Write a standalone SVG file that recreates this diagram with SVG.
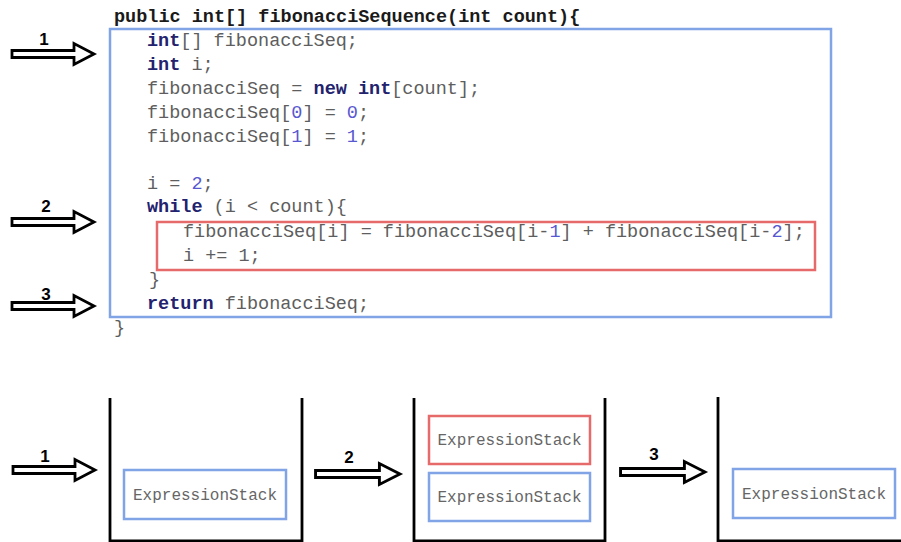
<svg xmlns="http://www.w3.org/2000/svg" width="901" height="542" viewBox="0 0 901 542">
<style>
.code{font-family:"Liberation Mono","Courier New","DejaVu Sans Mono",monospace;font-size:18.5px;fill:#5e5e5e}
.hdr{font-family:"Liberation Mono","Courier New","DejaVu Sans Mono",monospace;font-size:18.5px;font-weight:bold;fill:#1a1a1a}
.kw{font-weight:bold;fill:#22226e}
.num{fill:#5858d0}
.lbl{font-family:"Liberation Sans",Arial,sans-serif;font-size:17px;font-weight:bold;fill:#000;text-anchor:middle}
.arrow{fill:#fff;stroke:#000;stroke-width:2.8;stroke-linejoin:miter}
.blue{fill:#fff;stroke:#80a4e6;stroke-width:2.5}
.red{fill:#fff;stroke:#e66a6a;stroke-width:2.5}
.stack{fill:none;stroke:#000;stroke-width:2.8}
.es{font-family:"Liberation Mono","Courier New","DejaVu Sans Mono",monospace;font-size:16px;fill:#666;text-anchor:middle}
</style>
<defs>
<path id="arr" d="M-82,-3.5 H-20 V-10.5 L0,0 L-20,10.5 V3.5 H-82 Z"/>
</defs>
<rect width="901" height="542" fill="#fff"/>

<g id="method">
<text class="hdr" x="114" y="22" xml:space="preserve">public int[] fibonacciSequence(int count){</text>
<rect id="body-box" class="blue" x="110" y="29" width="721" height="288" style="fill:none"/>
<g id="red-box"><rect class="red" x="157" y="222" width="658" height="48" style="fill:none"/></g>
<text class="code" x="147" y="46" xml:space="preserve"><tspan class="kw">int</tspan>[] fibonacciSeq;</text>
<text class="code" x="147" y="70" xml:space="preserve"><tspan class="kw">int</tspan> i;</text>
<text class="code" x="147" y="94" xml:space="preserve">fibonacciSeq = <tspan class="kw">new</tspan> <tspan class="kw">int</tspan>[count];</text>
<text class="code" x="147" y="118" xml:space="preserve">fibonacciSeq[<tspan class="num">0</tspan>] = <tspan class="num">0</tspan>;</text>
<text class="code" x="147" y="142" xml:space="preserve">fibonacciSeq[<tspan class="num">1</tspan>] = <tspan class="num">1</tspan>;</text>
<text class="code" x="147" y="189" xml:space="preserve">i = <tspan class="num">2</tspan>;</text>
<text class="code" x="147" y="212" xml:space="preserve"><tspan class="kw">while</tspan> (i &lt; count){</text>
<text class="code" x="183" y="237" xml:space="preserve">fibonacciSeq[i] = fibonacciSeq[i-<tspan class="num">1</tspan>] + fibonacciSeq[i-<tspan class="num">2</tspan>];</text>
<text class="code" x="183" y="261" xml:space="preserve">i += 1;</text>
<text class="code" x="149" y="285">}</text>
<text class="code" x="147" y="309" xml:space="preserve"><tspan class="kw">return</tspan> fibonacciSeq;</text>
<text class="code" x="114" y="333">}</text>
</g>

<g id="stack1">
<path class="stack" d="M110,398 V541 H302 V398"/>
<rect class="blue" x="124" y="470" width="162" height="49"/>
<text class="es" x="205" y="499.5">ExpressionStack</text>
</g>

<g id="stack2">
<path class="stack" d="M414,398 V541 H605 V398"/>
<rect class="red" x="429" y="416" width="161" height="48"/>
<text class="es" x="509.5" y="445">ExpressionStack</text>
<rect class="blue" x="429" y="473" width="161" height="48"/>
<text class="es" x="509.5" y="502">ExpressionStack</text>
</g>

<g id="stack3">
<path class="stack" d="M718,397 V541 H903"/>
<rect class="blue" x="733" y="469" width="162" height="49"/>
<text class="es" x="814" y="498.5">ExpressionStack</text>
</g>

<g id="connectors">
<use href="#arr" class="arrow" transform="translate(94,54)"/>
<text class="lbl" x="44" y="45">1</text>
<use href="#arr" class="arrow" transform="translate(94,222)"/>
<text class="lbl" x="46" y="212">2</text>
<use href="#arr" class="arrow" transform="translate(94,306)"/>
<text class="lbl" x="46" y="300">3</text>
<use href="#arr" class="arrow" transform="translate(95,470)"/>
<text class="lbl" x="45" y="462">1</text>
<use href="#arr" class="arrow" transform="translate(400,474) scale(1.03,1)"/>
<text class="lbl" x="349" y="463">2</text>
<use href="#arr" class="arrow" transform="translate(705,472) scale(1.03,1)"/>
<text class="lbl" x="654" y="460">3</text>
</g>
</svg>
